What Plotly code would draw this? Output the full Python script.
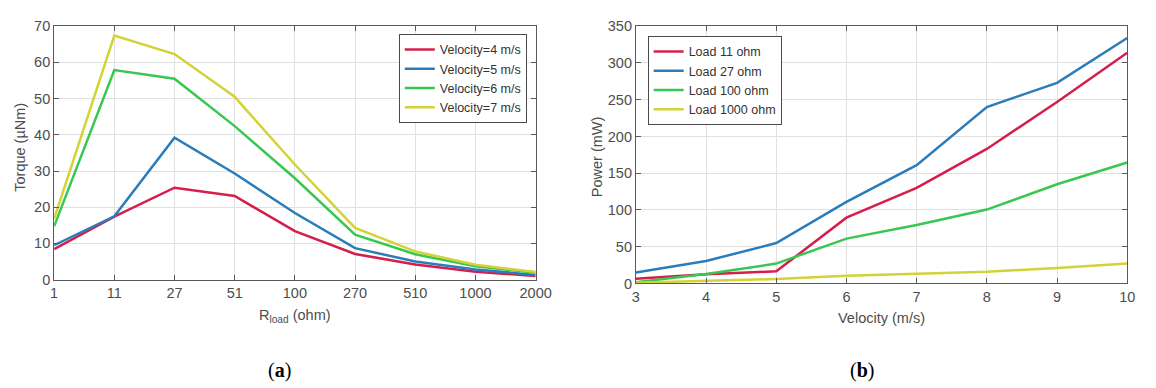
import plotly.graph_objects as go

W, H = 1156, 388

# ---- data (a) ----
r_load = ['1', '11', '27', '51', '100', '270', '510', '1000', '2000']
torque_v4 = [8.4, 17.4, 25.4, 23.1, 13.4, 7.1, 4.2, 2.2, 1.0]
torque_v5 = [9.5, 17.5, 39.2, 29.3, 18.4, 8.7, 5.0, 2.8, 1.3]
torque_v6 = [14.7, 57.9, 55.5, 42.4, 28.0, 12.4, 7.0, 3.7, 1.9]
torque_v7 = [16.8, 67.4, 62.3, 50.5, 31.8, 14.3, 7.8, 4.1, 2.1]
names_a = ['Velocity=4 m/s', 'Velocity=5 m/s', 'Velocity=6 m/s', 'Velocity=7 m/s']

# ---- data (b) ----
velocity = [3, 4, 5, 6, 7, 8, 9, 10]
power_11 = [6.5, 12.5, 16.5, 89.5, 130.0, 183.0, 247.0, 314.0]
power_27 = [15.0, 30.5, 55.0, 111.0, 161.0, 240.0, 273.0, 334.0]
power_100 = [1.5, 13.0, 27.0, 61.0, 79.5, 100.5, 135.0, 164.5]
power_1000 = [1.0, 3.0, 6.0, 10.5, 13.0, 16.0, 21.0, 27.0]
names_b = ['Load 11 ohm', 'Load 27 ohm', 'Load 100 ohm', 'Load 1000 ohm']

colors = ['#D41F4C', '#2A7DBA', '#38C750', '#D3D236']

fig = go.Figure()
for ys, nm, c in zip([torque_v4, torque_v5, torque_v6, torque_v7], names_a, colors):
    fig.add_trace(go.Scatter(x=r_load, y=ys, name=nm, mode='lines',
                             line=dict(color=c, width=2.5),
                             xaxis='x', yaxis='y', legend='legend'))
for ys, nm, c in zip([power_11, power_27, power_100, power_1000], names_b, colors):
    fig.add_trace(go.Scatter(x=velocity, y=ys, name=nm, mode='lines',
                             line=dict(color=c, width=2.5),
                             xaxis='x2', yaxis='y2', legend='legend2'))

def px(x):
    return x / W

def py(y):
    return (H - y) / H

tickfont = dict(family='Liberation Sans Narrow, Liberation Sans, Arial, sans-serif', size=14.5, color='#4d4d4d')
axis_common = dict(showline=True, linecolor='#5a5a5a', linewidth=1, mirror='ticks',
                   ticks='inside', ticklen=5, tickcolor='#5a5a5a',
                   showgrid=True, gridcolor='#e0e0e0', gridwidth=1,
                   zeroline=False, tickfont=tickfont)

legend_font = dict(family='Liberation Sans, Arial, sans-serif', size=12.5, color='#333333')

fig.update_layout(
    width=W, height=H, autosize=False,
    margin=dict(l=0, r=0, t=0, b=0),
    paper_bgcolor='white', plot_bgcolor='white',
    xaxis=dict(domain=[px(51), px(541)], anchor='y', type='category',
               range=[0, 8], **axis_common),
    yaxis=dict(domain=[py(283.3), py(19)], anchor='x', range=[0, 70], dtick=10,
               **axis_common),
    xaxis2=dict(domain=[px(643), px(1143)], anchor='y2', range=[3, 10], dtick=1,
                **axis_common),
    yaxis2=dict(domain=[py(287.3), py(19)], anchor='x2', range=[0, 350], dtick=50,
                **axis_common),
    legend=dict(x=px(532), y=py(27), xanchor='right', yanchor='top',
                bgcolor='white', bordercolor='#4a4a4a', borderwidth=1,
                font=legend_font, tracegroupgap=0, itemwidth=30),
    legend2=dict(x=px(655), y=py(29), xanchor='left', yanchor='top',
                 bgcolor='white', bordercolor='#4a4a4a', borderwidth=1,
                 font=legend_font, tracegroupgap=0, itemwidth=30),
    showlegend=True,
)

title_font = dict(family='Liberation Sans, Arial, sans-serif', size=14.5, color='#4d4d4d')
annots = [
    dict(text='Torque (µNm)', x=px(16), y=py(145), textangle=-90),
    dict(text='R<sub>load</sub> (ohm)', x=px(296), y=py(321)),
    dict(text='Power (mW)', x=px(603), y=py(155), textangle=-90),
    dict(text='Velocity (m/s)', x=px(893), y=py(323)),
]
for a in annots:
    fig.add_annotation(xref='paper', yref='paper', showarrow=False,
                       xanchor='center', yanchor='middle', font=title_font, **a)

cap_font = dict(family='Liberation Serif, Times New Roman, serif', size=20, color='black')
fig.add_annotation(text='(<b>a</b>)', x=px(280), y=py(378), xref='paper', yref='paper',
                   showarrow=False, xanchor='center', yanchor='middle', font=cap_font)
fig.add_annotation(text='(<b>b</b>)', x=px(873), y=py(378), xref='paper', yref='paper',
                   showarrow=False, xanchor='center', yanchor='middle', font=cap_font)

fig.write_html('out.html')
